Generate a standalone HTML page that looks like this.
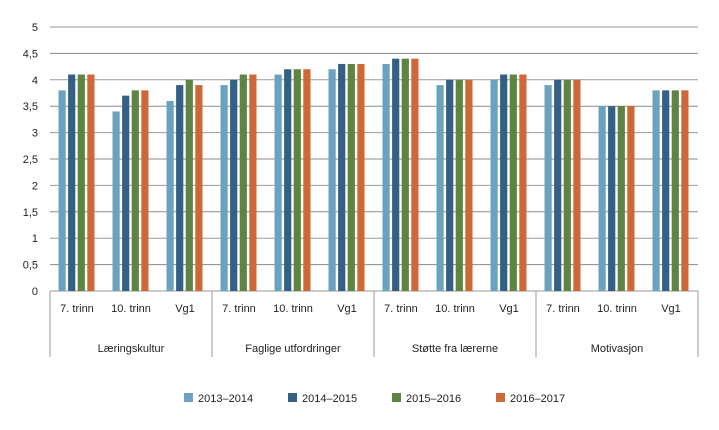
<!DOCTYPE html>
<html><head><meta charset="utf-8"><style>
body{margin:0;background:#fff;width:719px;height:425px;overflow:hidden}
svg text{font-family:"Liberation Sans",sans-serif;font-size:11px;fill:#222}
</style></head><body>
<svg id="chart" width="719" height="425"></svg>
<script>
const groups=["Læringskultur","Faglige utfordringer","Støtte fra lærerne","Motivasjon"];
const levels=["7. trinn","10. trinn","Vg1"];
const seriesNames=["2013–2014","2014–2015","2015–2016","2016–2017"];
const s2013=[3.8,3.4,3.6, 3.9,4.1,4.2, 4.3,3.9,4.0, 3.9,3.5,3.8];
const s2014=[4.1,3.7,3.9, 4.0,4.2,4.3, 4.4,4.0,4.1, 4.0,3.5,3.8];
const s2015=[4.1,3.8,4.0, 4.1,4.2,4.3, 4.4,4.0,4.1, 4.0,3.5,3.8];
const s2016=[4.1,3.8,3.9, 4.1,4.2,4.3, 4.4,4.0,4.1, 4.0,3.5,3.8];
const ticks=["0","0,5","1","1,5","2","2,5","3","3,5","4","4,5","5"];
const colors=["#6aa3bf","#346085","#5f8442","#cf6838"];
const series=[s2013,s2014,s2015,s2016];
const svg=document.getElementById('chart');
const NS='http://www.w3.org/2000/svg';
const x0=50,x1=698,y0=291,y5=27;
const ys=v=>y0-(v/5)*(y0-y5);
const catW=(x1-x0)/12;
function mk(t,a){const e=document.createElementNS(NS,t);for(const k in a)e.setAttribute(k,a[k]);svg.appendChild(e);return e;}
ticks.forEach((t,i)=>{
  const y=ys(i*0.5);
  const l=mk('line',{x1:x0,x2:x1,y1:y,y2:y,stroke:i%2?'#8a8a8a':'#9a9a9a','stroke-width':1});
  
  
  const tx=mk('text',{x:38,y:y+4,'text-anchor':'end'});tx.textContent=t;
  
  
});
for(let c=0;c<12;c++){
  const cx=x0+catW*(c+0.5);
  series.forEach((s,k)=>{
    const bx=cx-18.5+k*9.6;
    const r=mk('rect',{x:bx,y:ys(s[c]),width:7.2,height:y0-ys(s[c]),fill:colors[k]});
    
    
  });
  const t=mk('text',{x:cx,y:312,'text-anchor':'middle'});t.textContent=levels[c%3];
  
  
}
for(let g=0;g<=4;g++){
  const x=x0+catW*3*g;
  const l=mk('line',{x1:x,x2:x,y1:y0,y2:357,stroke:'#999','stroke-width':1});
  
  
  if(g<4){const t=mk('text',{x:x+catW*1.5,y:352,'text-anchor':'middle'});t.textContent=groups[g];
  
  }
}
seriesNames.forEach((n,k)=>{
  const lx=184+k*104;
  const r=mk('rect',{x:lx,y:393,width:9,height:9,fill:colors[k]});
  
  
  const t=mk('text',{x:lx+14,y:402});t.textContent=n;
  
  
});
</script>
</body></html>
